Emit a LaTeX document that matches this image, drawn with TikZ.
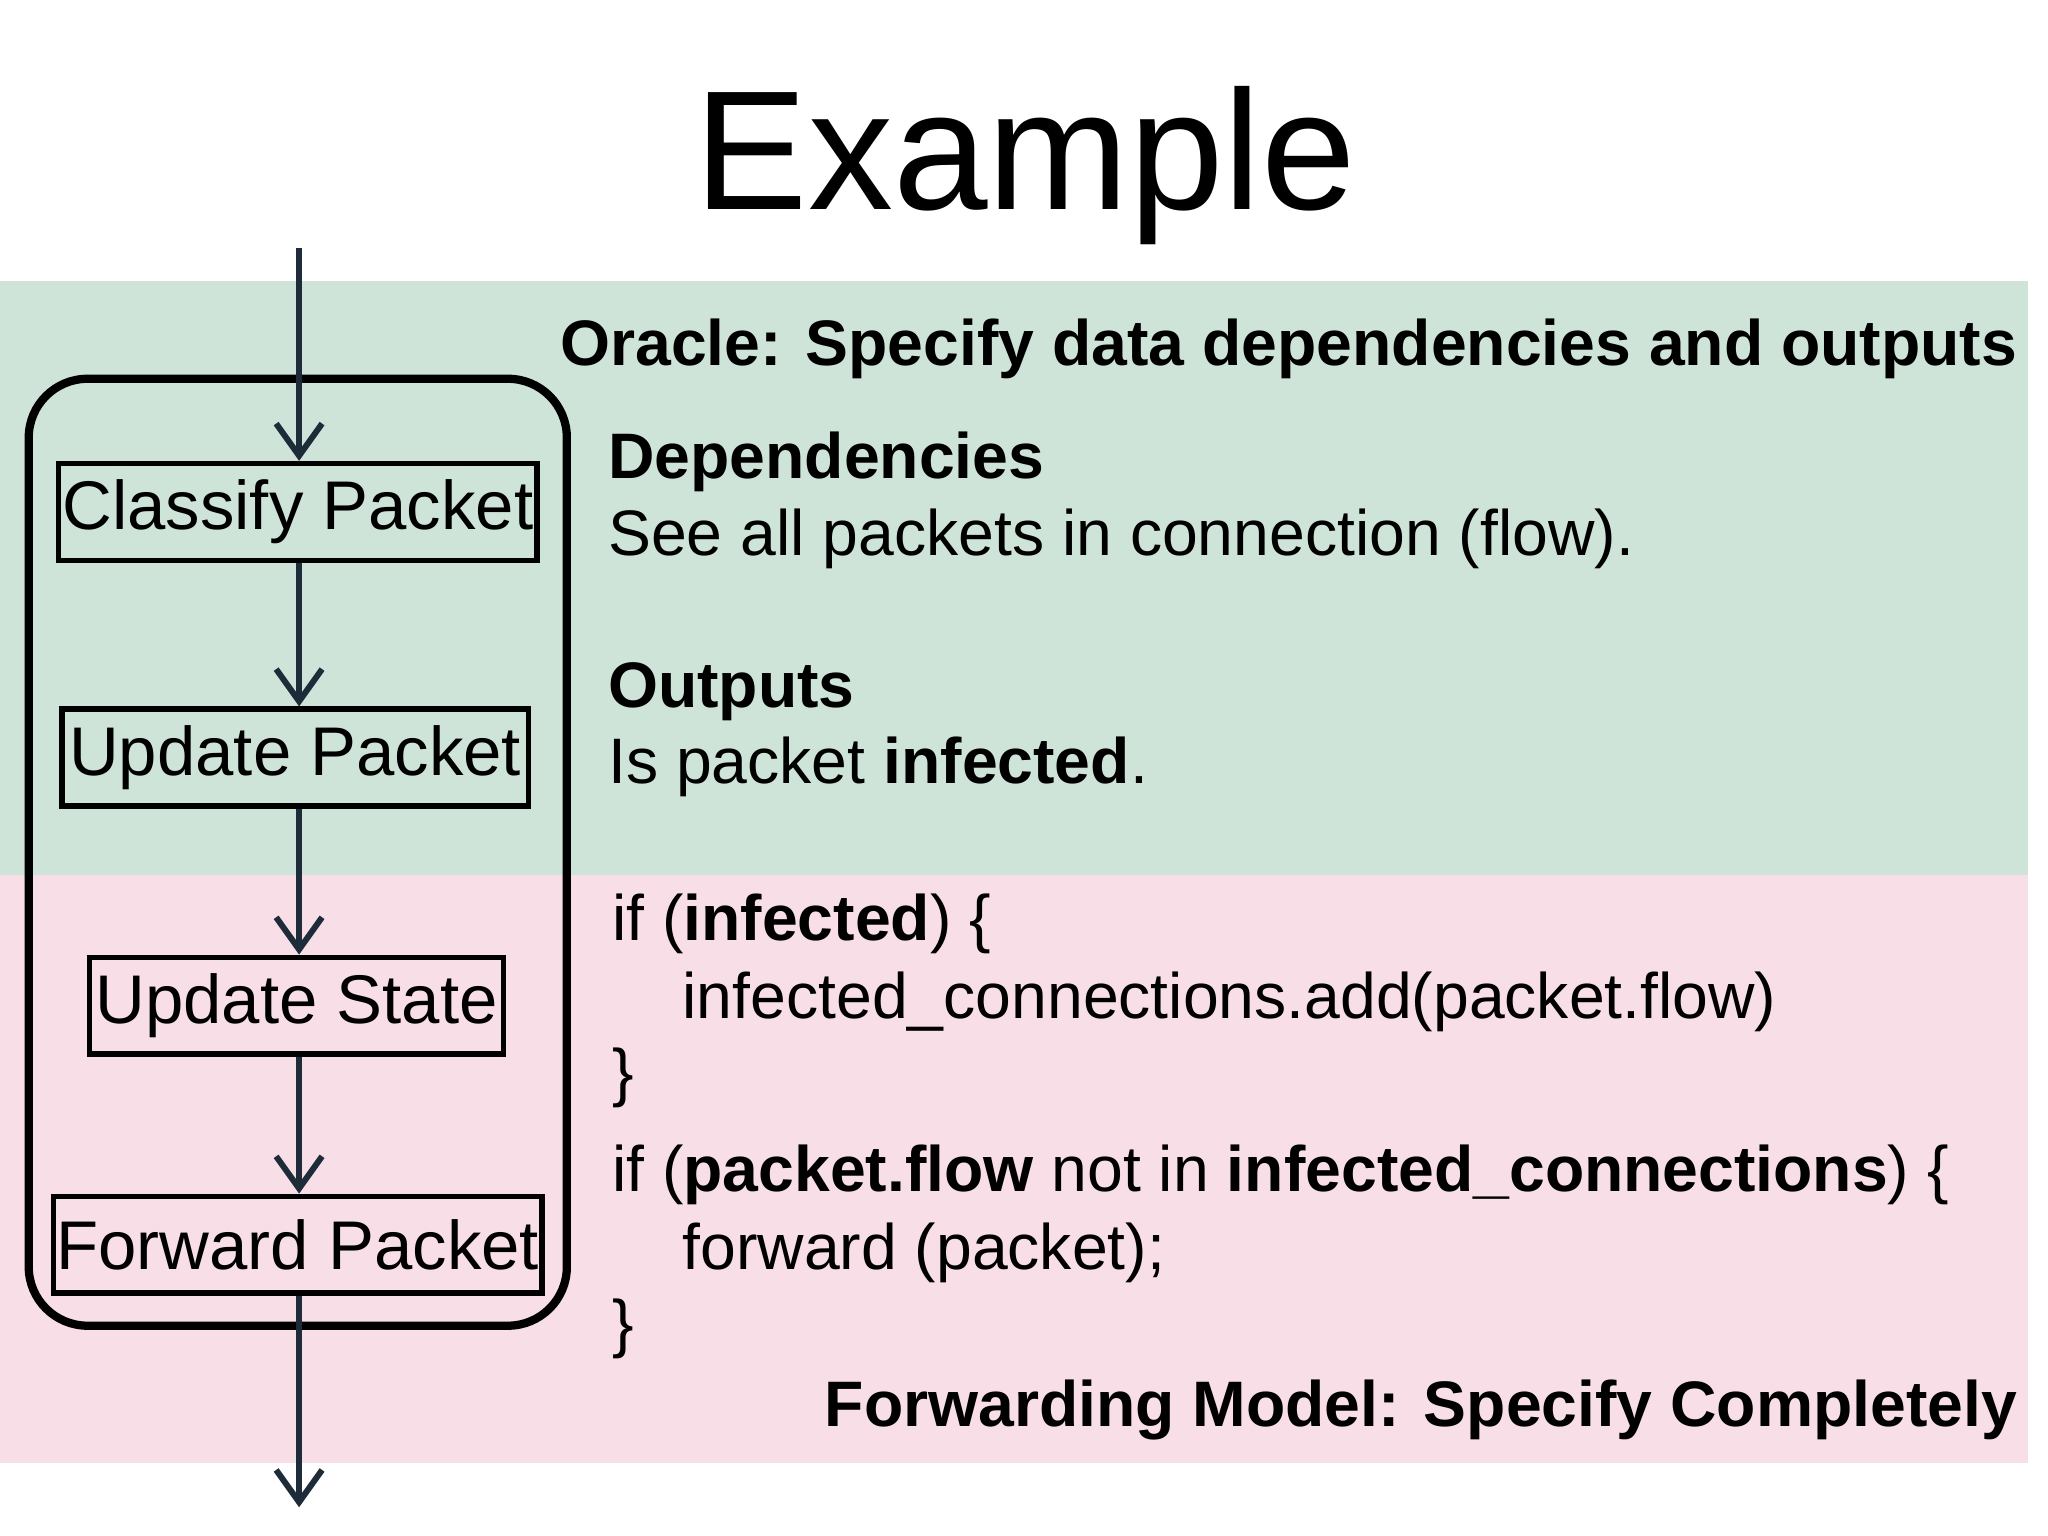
\documentclass[tikz,border=0pt]{standalone}
\usepackage{fontspec}
\setmainfont{Liberation Sans}
\usetikzlibrary{arrows.meta}
\definecolor{grn}{RGB}{207,228,216}
\definecolor{pnk}{RGB}{248,222,230}
\definecolor{arr}{RGB}{30,44,58}
\begin{document}
\begin{tikzpicture}[x=0.01cm,y=-0.01cm,
  box/.style={draw,line width=1.2pt,inner sep=0pt,minimum height=0.74cm,font=\fontsize{15}{18}\selectfont},
  flow/.style={draw=arr,line width=1.3pt,-{Straight Barb[length=7pt,width=10pt]}},
  txt/.style={anchor=base west,inner sep=0pt,font=\fontsize{14}{17}\selectfont},
  hd/.style={anchor=base east,inner sep=0pt,font=\fontsize{14}{17}\selectfont\bfseries}]
\useasboundingbox (0,0) rectangle (1568,1176);
\fill[white] (0,0) rectangle (1568,1176);
\fill[grn] (0,215) rectangle (1553,670);
\fill[pnk] (0,670) rectangle (1553,1120);
\node[inner sep=0pt,font=\fontsize{37}{44}\selectfont] (title) at (785,127) {Example};
\draw[line width=1.8pt,rounded corners=0.45cm] (22,290) rectangle (434,1015);
\node[box,minimum width=3.66cm] (c) at (228,392) {Classify Packet};
\node[box,minimum width=3.57cm] (u) at (226,580) {Update Packet};
\node[box,minimum width=3.17cm] (s) at (227,770) {Update State};
\node[box,minimum width=3.74cm] (f) at (228,953) {Forward Packet};
\coordinate (top) at (229,190);
\coordinate (bot) at (229,1154);
\draw[flow] (top) -- (c.north -| top);
\draw[flow] (c.south -| top) -- (u.north -| top);
\draw[flow] (u.south -| top) -- (s.north -| top);
\draw[flow] (s.south -| top) -- (f.north -| top);
\draw[flow] (f.south -| top) -- (bot);
\node[hd] (o) at (1545,280) {Oracle: Specify data dependencies and outputs};
\node[txt,font=\fontsize{14}{17}\selectfont\bfseries] (d1) at (465,366) {Dependencies};
\node[txt] (d2) at (465,425) {See all packets in connection (flow).};
\node[txt,font=\fontsize{14}{17}\selectfont\bfseries] (o1) at (465,542) {Outputs};
\node[txt] (o2) at (465,600) {Is packet \textbf{infected}.};
\node[txt] (l1) at (468,720) {if (\textbf{infected}) \{};
\node[txt] (l2) at (522,780) {infected\_connections.add(packet.flow)};
\node[txt] (l3) at (468,838) {\}};
\node[txt] (l4) at (468,912) {if (\textbf{packet.flow} not in \textbf{infected\_connections}) \{};
\node[txt] (l5) at (522,972) {forward (packet);};
\node[txt] (l6) at (468,1030) {\}};
\node[hd] (fm) at (1545,1092) {Forwarding Model: Specify Completely};
\end{tikzpicture}
\end{document}
